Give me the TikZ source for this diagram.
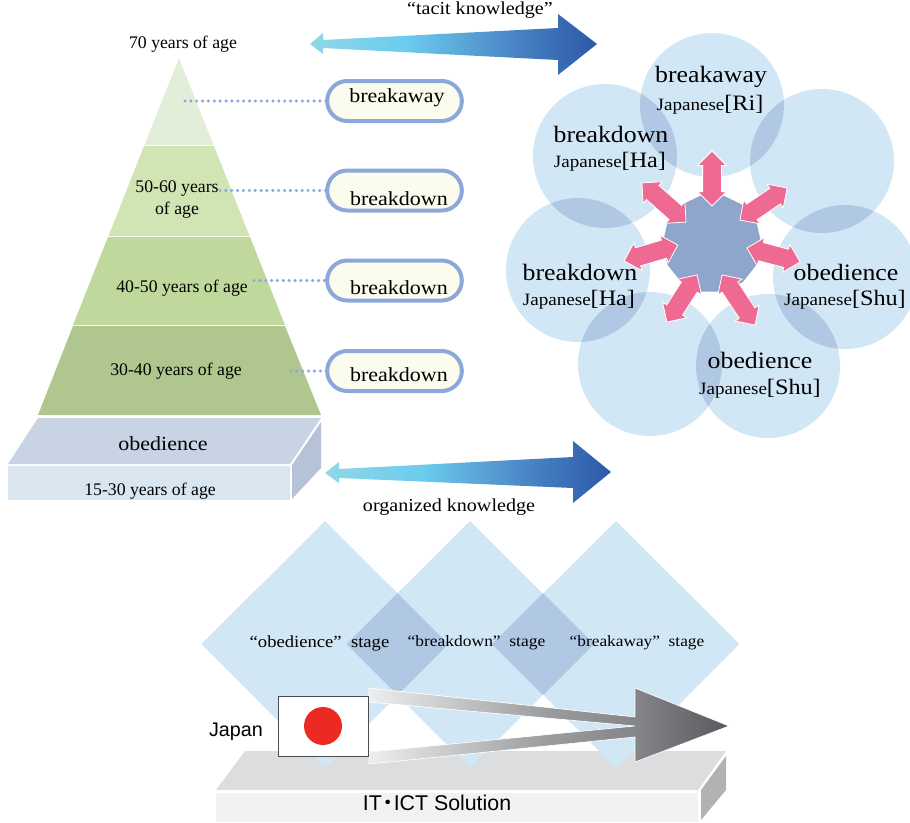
\documentclass[tikz,border=0pt]{standalone}
\usepackage{fontspec}
\setmainfont{Liberation Serif}
\setsansfont{Liberation Sans}
\newfontfamily\widefont[FakeStretch=1.1]{Liberation Serif}
\newfontfamily\cjkfont{Noto Sans CJK JP}
\usetikzlibrary{shapes.misc,shapes.geometric,shapes.arrows}
\definecolor{petal}{HTML}{D2E7F6}
\definecolor{petalover}{HTML}{B1C8E4}
\definecolor{pillline}{HTML}{8CA8DA}
\definecolor{pillfill}{HTML}{FBFBEE}
\definecolor{hubblue}{HTML}{8FA5CC}
\definecolor{spokepink}{HTML}{EE6A92}
\definecolor{inka}{HTML}{8FD8E6}
\definecolor{inkb}{HTML}{6CCBEE}
\definecolor{inkc}{HTML}{4A86C6}
\definecolor{inkd}{HTML}{2C58A8}
\definecolor{graya}{HTML}{EEEEEE}
\definecolor{grayb}{HTML}{9A9B9D}
\definecolor{grayc}{HTML}{85868A}
\definecolor{grayd}{HTML}{58595B}
\pgfdeclarehorizontalshading{knowfade}{100bp}{color(0bp)=(inka); color(25bp)=(inka); color(42bp)=(inkb); color(60bp)=(inkc); color(75bp)=(inkd); color(100bp)=(inkd)}
\pgfdeclarehorizontalshading{steelfade}{100bp}{color(0bp)=(graya); color(25bp)=(graya); color(50bp)=(grayb); color(62bp)=(grayc); color(75bp)=(grayd); color(100bp)=(grayd)}
\tikzset{
  agetext/.style={font=\fontsize{13.3}{16.5}\selectfont, inner sep=0pt, align=center, yshift=-1.5pt},
  labeltext/.style={font=\widefont\fontsize{13.7}{16}\selectfont, inner sep=0pt, yshift=-1.5pt},
  pilltext/.style={font=\widefont\fontsize{15}{18}\selectfont, inner sep=0pt, yshift=-1.5pt},
  petalname/.style={font=\widefont\fontsize{17.6}{20}\selectfont, inner sep=0pt, yshift=-1.5pt},
  petalsub/.style={font=\widefont\fontsize{13}{18}\selectfont, inner sep=0pt, yshift=-1.5pt},
  pill/.style={shape=rounded rectangle, draw=pillline, fill=pillfill, line width=3pt, minimum width=101pt, minimum height=30pt, inner sep=0pt, outer sep=0pt},
  spoke/.style={shape=double arrow, fill=spokepink, draw=white, line width=0.6pt, minimum width=21pt, double arrow head extend=3.75pt, inner xsep=0pt, inner ysep=6.75pt, outer sep=0pt},
  linkdots/.style={draw=pillline, line width=2.6pt, line cap=round, dash pattern=on 0pt off 4.4pt}
}
\newcommand\bigsub[1]{{\fontsize{16.5}{18}\selectfont#1}}
\begin{document}
\begin{tikzpicture}[x=0.75pt,y=-0.75pt]
  \newcommand\rad{72}
  \clip (0,0) rectangle (910,822);

  % pyramid
  \fill[color={rgb,255:red,227;green,238;blue,216}] (179,58)--(213.5,145)--(144.5,145)--cycle;
  \fill[color={rgb,255:red,209;green,228;blue,180}] (144,146)--(214,146)--(249.5,236)--(108.5,236)--cycle;
  \fill[color={rgb,255:red,191;green,216;blue,156}] (108,237)--(250,237)--(285,325)--(73,325)--cycle;
  \fill[color={rgb,255:red,175;green,199;blue,143}] (73,326)--(285,326)--(321,415)--(38,415)--cycle;

  % block under the pyramid
  \fill[color={rgb,255:red,200;green,211;blue,228}] (38,418)--(321,418)--(290,464)--(8,464)--cycle;
  \fill[color={rgb,255:red,217;green,230;blue,240}] (8,466)--(290,466)--(290,500)--(8,500)--cycle;
  \fill[color={rgb,255:red,181;green,194;blue,216}] (292,465)--(321,422)--(321,468)--(292,499)--cycle;

  \node[agetext] (top70) at (183,42) {70 years of age};
  \node[agetext] (age50) at (177,198) {50-60 years\\of age};
  \node[agetext] (age40) at (182,286) {40-50 years of age};
  \node[agetext] (age30) at (176,369) {30-40 years of age};
  \node[agetext] (age15) at (150,489) {15-30 years of age};
  \node[pilltext] (shublock) at (163,442) {obedience};

  % pills and dotted links
  \node[pill] (pill1) at (394.5,101) {};
  \node[pill] (pill2) at (394.5,190.5) {};
  \node[pill] (pill3) at (394.5,280.5) {};
  \node[pill] (pill4) at (394.5,371) {};
  \node[pilltext] (pilltext1) at (397,96) {breakaway};
  \node[pilltext] (pilltext2) at (399,197) {breakdown};
  \node[pilltext] (pilltext3) at (399,286) {breakdown};
  \node[pilltext] (pilltext4) at (399,373) {breakdown};
  \coordinate (dot1) at (185,101);
  \coordinate (dot2) at (220,190.5);
  \coordinate (dot3) at (254,280.5);
  \coordinate (dot4) at (291,371);
  \foreach \i in {1,2,3,4}
    \draw[linkdots] (dot\i) -- (pill\i.west);

  % knowledge arrows
  \shade[shading=knowfade] (310,44)--(323,33)--(323,40)--(558,28)--(558,14)--(597,44)--(558,75)--(558,60)--(323,48)--(323,54)--cycle;
  \shade[shading=knowfade] (325,473)--(339,462)--(339,469)--(573,457)--(573,441)--(611,472)--(573,503)--(573,488)--(339,478)--(339,483)--cycle;
  \node[labeltext] (tacit) at (480,8) {“tacit knowledge”};
  \node[labeltext] (organized) at (449,505) {organized knowledge};

  % petals
  \coordinate (c1) at (712,105);
  \coordinate (c2) at (822,161);
  \coordinate (c3) at (845,277);
  \coordinate (c4) at (768,366);
  \coordinate (c5) at (650,364);
  \coordinate (c6) at (578,270);
  \coordinate (c7) at (605,156);
  \foreach \i in {1,...,7}
    \fill[petal] (c\i) circle (\rad);
  \foreach \i/\j in {1/2,2/3,3/4,4/5,5/6,6/7,7/1}{
    \begin{scope}
      \clip (c\i) circle (\rad);
      \fill[petalover] (c\j) circle (\rad);
    \end{scope}
  }

  % hub and spokes
  \node[regular polygon, regular polygon sides=14, fill=hubblue, inner sep=0pt, minimum size=74pt] (hub) at (712,243.5) {};
  \foreach \x/\y/\a/\l [count=\i] in {712/178.5/90/55, 763.5/204/34.2/57, 773.5/255/-14.8/55, 738.5/300/-56.6/60, 682/298.5/57.4/56, 651/253/16.5/56, 664/202.5/-41.6/59}
    \node[spoke, rotate=\a, minimum height=\l*0.75pt] (spoke\i) at (\x,\y) {};

  \node[petalname] (ri) at (711,75) {breakaway};
  \node[petalsub] (risub) at (710,103) {Japanese\bigsub{[Ri]}};
  \node[petalname] (ha1) at (611,132) {breakdown};
  \node[petalsub] (ha1sub) at (610,160) {Japanese\bigsub{[Ha]}};
  \node[petalname] (ha2) at (580,270) {breakdown};
  \node[petalsub] (ha2sub) at (579,298) {Japanese\bigsub{[Ha]}};
  \node[petalname] (shu1) at (846,270) {obedience};
  \node[petalsub] (shu1sub) at (845,298) {Japanese\bigsub{[Shu]}};
  \node[petalname] (shu2) at (760,358) {obedience};
  \node[petalsub] (shu2sub) at (760,387) {Japanese\bigsub{[Shu]}};

  % platform
  \fill[color={rgb,255:red,220;green,221;blue,222}] (245,751)--(726,751)--(698,790)--(216,790)--cycle;
  \fill[color={rgb,255:red,241;green,243;blue,242}] (216,793)--(698,793)--(698,822)--(216,822)--cycle;
  \fill[color={rgb,255:red,176;green,178;blue,180}] (701,790)--(726,756)--(726,790)--(701,820)--cycle;
  \node[font=\sffamily\fontsize{16}{18}\selectfont, inner sep=0pt] (solution) at (437,803) {IT{\cjkfont\kern-.22em ・\kern-.22em}ICT Solution};

  % diamonds
  \foreach \x in {325,470,616}
    \fill[petal] (\x-123.5,644)--(\x,521)--(\x+123.5,644)--(\x,768)--cycle;
  \foreach \x in {397.5,543}
    \fill[petalover] (\x-51,644)--(\x,593)--(\x+51,644)--(\x,695)--cycle;
  \node[labeltext, font=\widefont\fontsize{12.7}{15}\selectfont] (stage1) at (319.5,641) {“obedience”\ \ stage};
  \node[labeltext, font=\widefont\fontsize{11.9}{15}\selectfont] (stage2) at (476.5,641) {“breakdown”\ \ stage};
  \node[labeltext, font=\widefont\fontsize{11.8}{15}\selectfont] (stage3) at (637,641) {“breakaway”\ \ stage};

  % arrow and flag
  \shade[shading=steelfade, draw=white, line width=0.5pt] (369,688)--(635,717)--(635,688)--(729,726)--(635,762)--(635,737)--(369,764)--(369,752)--(635,726)--(369,702)--cycle;
  \node[draw=black!70, fill=white, line width=0.6pt, minimum width=67.5pt, minimum height=45pt, inner sep=0pt] (flag) at (323,726) {};
  \node[circle, fill={rgb,255:red,236;green,42;blue,36}, minimum size=28.5pt, inner sep=0pt] (sun) at (flag.center) {};
  \node[font=\sffamily\fontsize{14.8}{16}\selectfont, inner sep=0pt] (japan) at (236,732) {Japan};
\end{tikzpicture}
\end{document}
